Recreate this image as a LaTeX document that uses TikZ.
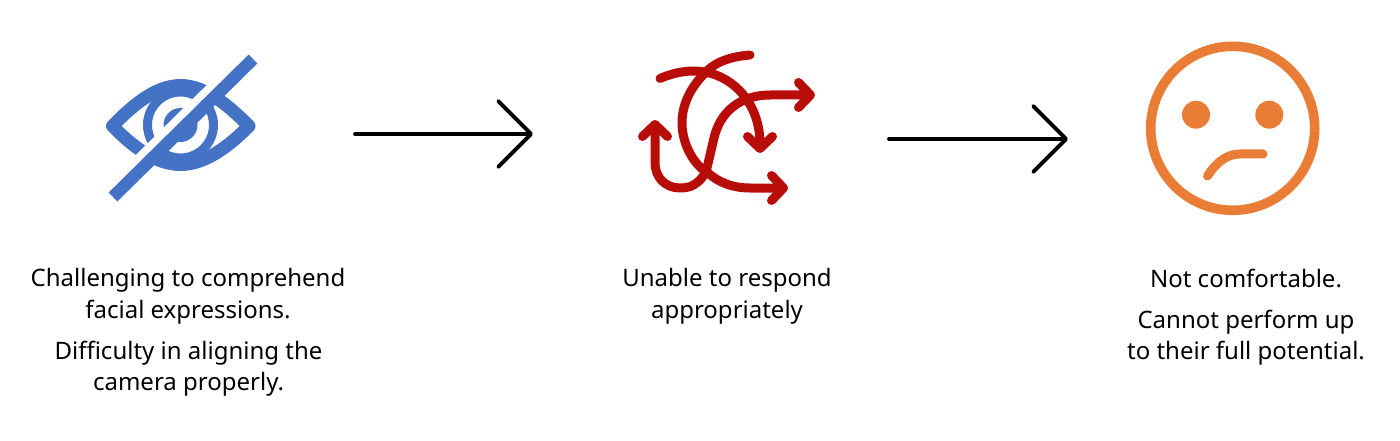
\documentclass[tikz,border=0pt]{standalone}
\usepackage{fontspec}
\setmainfont{Noto Sans}
\usetikzlibrary{arrows.meta}
\definecolor{eyeblue}{HTML}{4472C4}
\definecolor{flowred}{HTML}{B80C09}
\definecolor{faceorange}{HTML}{E97D35}
\tikzset{x=1pt,y=-1pt,
  caption/.style={align=center,inner sep=0pt,font=\fontsize{24}{31}\selectfont,text=black,anchor=center},
  flowarrow/.style={line width=3.8pt,black,line cap=round,-{Straight Barb[round,length=33pt,width=66pt,line width=3.8pt]}},
  redline/.style={line width=9pt,flowred,line cap=round,line join=round},
  redarrow/.style={redline,-{Straight Barb[round,length=12pt,width=25pt,line width=9pt]}},
  eyeline/.style={line width=13pt,eyeblue,line cap=butt,line join=round},
  faceline/.style={faceorange,line width=9.6pt,line cap=round}}
\begin{document}
\begin{tikzpicture}
\useasboundingbox (0,0) rectangle (1400,441);
% eye icon
\coordinate (slashA) at (113,197);
\coordinate (slashB) at (253,59);
\draw[eyeline] (112.5,126) .. controls (131,107) and (155,85.5) .. (180.5,85.5)
  .. controls (206,85.5) and (230,107) .. (249,126)
  .. controls (230,145) and (206,164.5) .. (180.5,164.5)
  .. controls (155,164.5) and (131,145) .. cycle;
\draw[eyeblue,line width=9pt] (180.5,125) circle[radius=33];
\fill[eyeblue] (180.5,125) circle[radius=17];
\draw[white,line width=8pt] ([shift={(-7,-7)}]slashA) -- ([shift={(-7,-7)}]slashB);
\draw[eyeblue,line width=12.5pt] (slashA) -- (slashB);
% arrows
\coordinate (arrowOneStart) at (355,134);
\coordinate (arrowOneEnd) at (533,134);
\coordinate (arrowTwoStart) at (889,139);
\coordinate (arrowTwoEnd) at (1068,139);
\draw[flowarrow] (arrowOneStart) -- (arrowOneEnd);
\draw[flowarrow] (arrowTwoStart) -- (arrowTwoEnd);
% tangled arrows icon
\draw[redarrow] (660,78.5) .. controls (675,72) and (692,69) .. (707,72.5)
  .. controls (735,78) and (760,105) .. (760,153);
\draw[redarrow] (750,55) .. controls (725,57) and (712,65) .. (705,73)
  .. controls (690,88) and (682,105) .. (682,123)
  .. controls (682,145) and (695,166) .. (707,172)
  .. controls (720,184) and (735,188) .. (750,188) -- (788,188);
\draw[redarrow] (706,172) .. controls (698,185) and (690,188) .. (680,188)
  .. controls (665,188) and (655,177) .. (655,163) -- (655,120);
\draw[redarrow] (706,172) -- (714,138)
  .. controls (720,112) and (740,95) .. (770,95) -- (815,95);
% face icon
\draw[faceline] (1232.7,128.3) circle[radius=82];
\fill[faceorange] (1196,114.7) circle[radius=14];
\fill[faceorange] (1269.3,114.7) circle[radius=14];
\draw[faceline,line width=9pt] (1207.5,176) .. controls (1217,161) and (1228,154) .. (1240,154) -- (1263,154);
% captions
\node[caption] (capOneA) at (188,296) {Challenging to comprehend\\[1pt]facial expressions.};
\node[caption] (capOneB) at (188.5,368.5) {Difficulty in aligning the\\camera properly.};
\node[caption] (capTwo) at (727,296) {Unable to respond\\[1pt]appropriately};
\node[caption] (capThreeA) at (1246,278.5) {Not comfortable.};
\node[caption] (capThreeB) at (1246,338) {Cannot perform up\\to their full potential.};
\end{tikzpicture}
\end{document}
